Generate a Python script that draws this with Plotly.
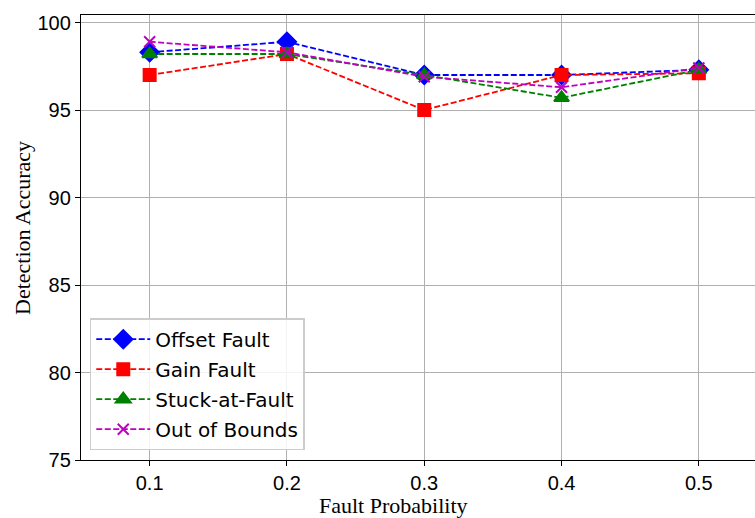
import plotly.graph_objects as go

fault_prob = [0.1, 0.2, 0.3, 0.4, 0.5]
offset_fault = [98.3, 98.9, 97.0, 97.0, 97.3]
gain_fault = [97.0, 98.2, 95.0, 97.0, 97.1]
stuck_at_fault = [98.2, 98.2, 97.0, 95.7, 97.3]
out_of_bounds = [98.9, 98.3, 96.9, 96.3, 97.4]

series = [
    ("Offset Fault", offset_fault, "#0000ff", "diamond", 14),
    ("Gain Fault", gain_fault, "#ff0000", "square", 12),
    ("Stuck-at-Fault", stuck_at_fault, "#008000", "triangle-up", 13),
    ("Out of Bounds", out_of_bounds, "#bf00bf", "x-thin", 11),
]

fig = go.Figure()
for name, vals, color, symbol, size in series:
    fig.add_trace(go.Scatter(
        x=fault_prob, y=vals, name=name, legendgroup=name,
        mode="lines+markers",
        line=dict(color=color, width=1.8, dash="6px,2.5px"),
        marker=dict(symbol=symbol, size=size, color=color,
                    line=dict(color=color, width=2)),
    ))

axis_common = dict(
    showgrid=True, gridcolor="#b0b0b0", gridwidth=1.1,
    showline=True, linecolor="black", linewidth=1.3,
    ticks="outside", ticklen=5, tickcolor="black", tickwidth=1.2,
    tickfont=dict(family="Liberation Sans, Arial", size=20, color="black"),
    zeroline=False,
)

title_font = dict(family="Liberation Serif, Times New Roman", size=22, color="black")

fig.update_layout(
    width=755, height=518,
    margin=dict(l=81, r=0, t=15, b=58),
    paper_bgcolor="white", plot_bgcolor="white",
    xaxis=dict(
        range=[0.05, 0.5409], tickvals=fault_prob,
        ticktext=["0.1", "0.2", "0.3", "0.4", "0.5"],
        mirror=True,
        **axis_common,
    ),
    yaxis=dict(
        range=[75, 100.43], tickvals=[75, 80, 85, 90, 95, 100],
        **axis_common,
    ),
    legend=dict(
        x=0.013, y=0.022, xanchor="left", yanchor="bottom",
        bgcolor="rgba(255,255,255,0.85)", bordercolor="#cccccc", borderwidth=1.5,
        font=dict(family="DejaVu Sans", size=20, color="black"),
        itemwidth=54, tracegroupgap=1, traceorder="grouped",
    ),
    annotations=[
        dict(text="Fault Probability", xref="paper", yref="paper",
             x=(393 - 81) / 674, y=-(505.5 - 460) / 445,
             xanchor="center", yanchor="middle", showarrow=False, font=title_font),
        dict(text="Detection Accuracy", xref="paper", yref="paper",
             x=-(81 - 22) / 674, y=(460 - 228) / 445, textangle=-90,
             xanchor="center", yanchor="middle", showarrow=False, font=title_font),
    ],
)

fig.write_html("out.html")
